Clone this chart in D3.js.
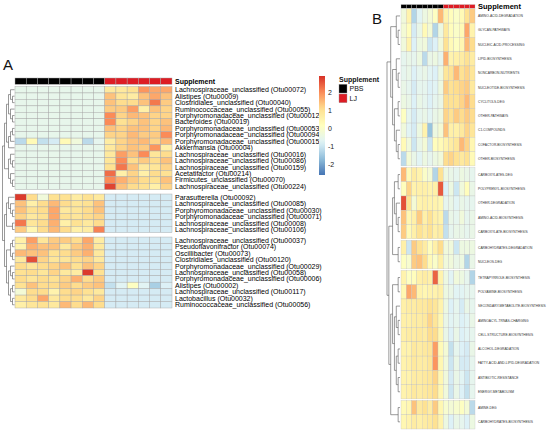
<!DOCTYPE html>
<html><head><meta charset="utf-8">
<script src="https://cdn.jsdelivr.net/npm/d3@7/dist/d3.min.js"></script>
<style>
body{margin:0;background:#fff}
svg{display:block}
text{font-family:"Liberation Sans",Arial,Helvetica,sans-serif}
</style>
</head><body>
<svg id="c" width="550" height="435"></svg>
<script>
// ---------------- DATA ----------------
const supplement = ["PBS","PBS","PBS","PBS","PBS","PBS","PBS","PBS","LJ","LJ","LJ","LJ","LJ","LJ"];
const supplementLevels = ["PBS","LJ"];
const legendTicks = [2,1,0,-1,-2];

const otuLabels = [
"Lachnospiraceae_unclassified (Otu00072)","Alistipes (Otu00009)","Clostridiales_unclassified (Otu00040)",
"Ruminococcaceae_unclassified (Otu00055)","Porphyromonadaceae_unclassified (Otu00012)","Bacteroides (Otu00019)",
"Porphyromonadaceae_unclassified (Otu00053)","Porphyromonadaceae_unclassified (Otu00094)","Porphyromonadaceae_unclassified (Otu00015)",
"Akkermansia (Otu00004)","Lachnospiraceae_unclassified (Otu00016)","Lachnospiraceae_unclassified (Otu00086)",
"Lachnospiraceae_unclassified (Otu00159)","Acetatifactor (Otu00214)","Firmicutes_unclassified (Otu00070)",
"Lachnospiraceae_unclassified (Otu00224)",
"Parasutterella (Otu00092)","Lachnospiraceae_unclassified (Otu00085)","Porphyromonadaceae_unclassified (Otu00030)",
"Porphyromonadaceae_unclassified (Otu00071)","Lachnospiraceae_unclassified (Otu00008)","Lachnospiraceae_unclassified (Otu00106)",
"Lachnospiraceae_unclassified (Otu00037)","Pseudoflavonifractor (Otu00074)","Oscillibacter (Otu00073)",
"Clostridiales_unclassified (Otu00120)","Porphyromonadaceae_unclassified (Otu00029)","Lachnospiraceae_unclassified (Otu00058)",
"Porphyromonadaceae_unclassified (Otu00006)","Alistipes (Otu00002)","Lachnospiraceae_unclassified (Otu00117)",
"Lactobacillus (Otu00032)","Ruminococcaceae_unclassified (Otu00056)"
];
const otuGroups = [16, 6, 11];
const otuValues = [
[-0.55,-0.55,-0.55,-0.55,-0.55,-0.55,-0.55,-0.55, 0.8,0.8,1.0,1.9,1.7,1.7],
[-0.55,-0.55,-0.55,-0.55,-0.55,-0.55,-0.55,-0.55, 1.4,0.9,0.7,1.4,1.7,1.4],
[-0.55,-0.55,-0.55,-0.55,-0.55,-0.55,-0.55,-0.55, 1.4,1.1,1.1,1.4,2.2,1.3],
[-0.55,-0.55,-0.55,-0.55,-0.55,-0.55,-0.55,-0.55, 1.3,1.3,1.8,0.6,1.4,1.2],
[-0.55,-0.55,-0.55,-0.55,-0.55,-0.55,-0.55,-0.55, 2.0,1.2,1.5,1.4,1.2,1.2],
[-0.55,-0.55,-0.55,-0.55,-0.55,-0.55,-0.55,-0.55, 2.0,1.0,1.2,1.4,1.2,1.4],
[-0.55,-0.55,-0.55,-0.55,-0.55,-0.55,-0.55,-0.55, 1.4,1.2,1.4,1.4,1.2,1.5],
[-0.55,-0.55,-0.55,-0.55,-0.55,-0.55,-0.55,-0.55, 1.2,1.2,1.5,1.3,1.3,2.0],
[-1.2,0.3,-1.1,-0.9,0.3,-0.3,-1.2,-0.6, 0.7,1.2,1.4,1.5,1.2,1.5],
[-0.55,-0.55,-0.55,-0.55,-0.55,-0.55,-0.55,-0.55, 0.8,1.2,1.4,1.3,1.9,0.6],
[-0.55,-0.55,-0.55,-0.55,-0.55,-0.55,-0.55,-0.55, 0.8,1.8,1.4,2.0,0.9,1.1],
[-0.55,-0.55,-0.55,-0.55,-0.55,-0.55,-0.55,-0.55, 0.9,2.0,1.1,1.3,1.1,1.4],
[-0.55,-0.55,-0.55,-0.55,-0.55,-0.55,-0.55,-0.55, 1.0,2.2,1.4,0.8,0.9,1.2],
[-0.55,-0.55,-0.55,-0.55,-0.55,-0.55,-0.55,-0.55, 2.3,0.6,1.2,0.6,1.1,1.0],
[-0.55,-0.55,-0.55,-0.55,-0.55,-0.55,-0.55,-0.55, 2.0,1.6,1.3,1.1,1.0,1.4],
[-0.55,-0.55,-0.55,-0.55,-0.55,-0.55,-0.55,-0.55, 2.7,1.4,1.1,1.0,0.6,1.2],
[2.8,1.1,-0.3,1.0,1.0,0.7,1.0,0.8, -0.9,-0.9,-0.9,-0.9,-0.9,-0.9],
[1.4,0.6,1.1,1.5,1.1,0.9,1.0,1.4, -0.9,-0.9,-0.9,-0.9,-0.9,-0.9],
[1.4,1.0,1.1,1.7,0.8,0.9,1.1,1.4, -0.9,-0.9,-0.9,-0.9,-0.9,-0.9],
[1.2,0.8,1.0,1.7,1.0,0.9,1.1,1.2, -0.9,-0.9,-0.9,-0.9,-0.9,-0.9],
[2.2,0.9,1.1,1.6,0.6,1.0,0.8,1.1, -0.9,-0.9,-0.9,-0.9,-0.9,-0.9],
[1.3,0.4,1.1,1.5,1.1,0.6,0.7,2.1, -0.9,-0.9,-0.9,-0.9,-0.9,-0.9],
[0.6,1.8,0.9,1.3,1.3,1.1,1.7,0.7, -0.9,-0.9,-0.9,-0.9,-0.9,-0.9],
[0.5,1.6,1.4,1.4,0.8,1.3,1.6,0.8, -0.9,-0.9,-0.9,-0.9,-0.9,-0.9],
[1.5,1.4,1.4,1.0,1.1,1.3,1.6,0.8, -0.9,-0.9,-0.9,-0.9,-0.9,-0.9],
[0.8,2.6,1.2,0.9,0.9,1.1,1.2,0.8, -0.9,-0.9,-0.9,-0.9,-0.9,-0.9],
[1.1,0.9,1.1,1.2,1.4,1.0,1.4,1.2, -0.9,-0.9,-0.9,-0.9,-0.9,-0.9],
[1.0,1.1,0.9,1.2,0.8,0.7,2.8,1.0, -0.9,-0.9,-0.9,-0.9,-0.9,-0.9],
[1.1,0.9,1.1,1.0,1.2,1.6,1.1,1.3, -0.9,-0.9,-0.9,-0.9,-0.9,-0.9],
[1.0,1.4,1.1,1.1,1.3,1.1,1.3,1.4, -1.1,-0.7,0.1,-0.7,-1.4,-0.8],
[-0.2,1.1,1.1,0.5,1.1,1.2,1.0,0.8, -0.9,-0.9,-0.9,-0.9,-0.9,-0.9],
[0.8,1.1,1.7,0.8,1.1,1.1,0.8,1.2, -0.9,-0.9,-0.9,-0.9,-0.9,-0.9],
[0.6,0.9,1.0,0.8,1.5,1.1,1.5,1.1, -0.9,-0.9,-0.9,-0.9,-0.9,-0.9]
];
const otuTree = [
  [[[[0,[1,2]],[3,[4,5]]],[[[6,7],8],9]],[[10,[11,12]],[13,[14,15]]]],
  [[[16,[17,[18,19]]],[20,21]],[[[22,23],[24,25]],[[26,[27,28]],[[29,30],[31,32]]]]]
];

const pathwayLabels = [
"AMINO-ACID-DEGRADATION","GLYCAN-PATHWAYS","NUCLEIC-ACID-PROCESSING","LIPID-BIOSYNTHESIS","NONCARBON-NUTRIENTS",
"NUCLEOTIDE-BIOSYNTHESIS","CYCLITOLS-DEG","OTHER-PATHWAYS","C1-COMPOUNDS","COFACTOR-BIOSYNTHESIS","OTHER-BIOSYNTHESIS",
"CARBOXYLATES-DEG","POLYPRENYL-BIOSYNTHESIS","OTHER-DEGRADATION","AMINO-ACID-BIOSYNTHESIS","CARBOXYLATE-BIOSYNTHESIS",
"CARBOHYDRATES-DEGRADATION","NUCLEOS-DEG",
"TETRAPYRROLE-BIOSYNTHESIS","POLYAMINE-BIOSYNTHESIS","SECONDARY-METABOLITE-BIOSYNTHESIS","AMINOACYL-TRNAS-CHARGING",
"CELL-STRUCTURE-BIOSYNTHESIS","ALCOHOL-DEGRADATION","FATTY-ACID-AND-LIPID-DEGRADATION","ANTIBIOTIC-RESISTANCE","ENERGY-METABOLISM",
"AMINE-DEG","CARBOHYDRATES-BIOSYNTHESIS"
];
const pathwayGroups = [11, 5, 2, 9, 2];
const pathwayValues = [
[-0.3,0.5,-1.3,-0.7,-0.4,-0.2,0.1,1.5, 0.5,0.2,0.0,0.3,1.0,1.3],
[-0.2,0.2,-0.9,-0.5,0.3,-0.2,-1.3,-0.4, 0.8,0.2,0.0,0.3,1.7,0.5],
[-0.3,0.5,-0.8,-0.4,-0.3,-1.0,-0.8,-0.3, 1.0,0.3,0.1,0.4,1.5,1.1],
[-0.6,-0.5,-0.6,-0.4,-1.2,-0.5,-0.4,-0.6, 1.6,0.5,0.6,0.7,1.0,0.7],
[-0.6,-0.5,-0.8,-0.6,-0.5,-0.7,-0.8,-0.4, 0.9,1.0,1.5,1.0,1.2,0.9],
[-0.5,-0.6,-0.9,-0.6,-0.6,-0.8,-0.7,-0.4, 1.3,1.0,1.1,1.2,1.3,0.8],
[-0.4,-0.5,-0.8,-0.5,-0.6,-0.8,-0.6,-0.5, 1.1,1.0,1.0,1.2,1.5,1.1],
[0.1,-0.6,-0.9,-0.6,-0.5,-0.7,-0.5,-0.4, 1.2,1.0,1.3,1.1,1.3,1.1],
[-0.3,-0.7,-0.9,-0.4,0.5,-1.6,-0.4,-0.2, 1.4,0.6,0.6,0.8,1.2,0.9],
[0.3,-0.3,-1.0,-0.5,-0.2,-1.0,0.2,0.3, 0.5,0.7,0.9,1.5,1.2,0.4],
[-1.2,-0.2,-0.5,-0.7,-0.4,-0.6,-0.4,-0.3, 1.1,1.2,1.0,0.8,1.0,0.3],
[1.5,0.3,0.7,0.5,0.0,-0.2,-1.3,1.0, -0.4,-0.5,-0.6,-0.4,-0.5,-0.6],
[0.2,1.2,0.5,0.6,0.6,0.5,0.6,2.5, -0.8,-0.4,-1.0,-0.3,0.2,-0.5],
[2.6,1.0,-0.2,0.5,0.6,0.5,0.5,0.4, -0.6,-0.5,-0.7,-0.5,-0.6,-0.6],
[1.4,0.4,0.6,1.3,0.6,1.0,0.6,0.5, -1.2,-0.5,-0.6,-0.3,-0.6,-0.5],
[1.3,0.3,0.6,1.0,0.7,1.0,0.6,0.7, -1.1,-0.6,-0.5,-0.5,-0.6,-0.5],
[0.6,-1.0,1.3,1.0,0.7,0.2,0.6,1.1, -0.3,-0.3,-1.0,-0.4,-0.4,-0.4],
[0.1,-0.1,1.3,1.4,1.1,0.3,0.0,0.6, -0.3,-0.3,-0.5,-0.4,-1.3,-0.5],
[0.5,0.1,0.2,0.6,0.7,0.6,2.4,0.5, -0.4,-0.7,-0.3,-0.4,-0.6,-1.3],
[0.4,1.7,1.5,0.5,0.4,0.5,0.5,0.6, -0.4,-0.5,-0.7,-0.7,-0.6,-0.6],
[0.6,0.7,0.7,0.8,0.8,1.0,0.9,0.5, -0.4,-0.8,-0.6,-0.9,-0.5,-0.6],
[0.6,0.6,0.7,0.7,0.8,1.2,0.9,0.4, -0.5,-0.7,-0.6,-0.8,-0.7,-0.5],
[0.6,0.7,0.7,0.8,0.7,1.1,1.1,0.4, -0.5,-0.8,-0.5,-0.8,-0.7,-0.6],
[0.5,0.5,0.8,0.7,0.8,0.9,1.8,0.3, -0.2,-1.1,-0.6,-0.8,-0.9,-0.5],
[0.5,0.6,0.8,0.7,0.7,0.9,1.9,0.4, -0.3,-1.0,-0.5,-0.9,-0.9,-0.6],
[0.5,0.5,0.7,0.7,0.8,0.9,1.2,0.4, -0.3,-0.9,-0.5,-0.7,-1.0,-0.6],
[0.5,0.6,0.8,0.7,0.8,0.9,1.1,0.4, -0.3,-1.0,-0.5,-0.8,-1.1,-0.6],
[0.3,0.4,1.4,0.8,1.0,0.7,1.3,0.4, -0.1,-0.2,-0.1,0.1,-0.2,-1.2],
[0.4,0.5,0.7,0.6,0.7,0.8,1.0,0.5, -0.4,-0.8,-0.5,-0.6,-0.8,-0.4]
];
const pathwayTree = [
  [[0,[1,2]],[[3,[4,5]],[[6,7],[8,[9,10]]]]],
  [[[[11,12],[13,[14,15]]],[16,17]],[[[18,19],[[20,[21,22]],[[23,24],[25,26]]]],[27,28]]]
];

// ---------------- SCALES ----------------
const palette = ["#4575B4","#91BFDB","#E0F3F8","#FFFFBF","#FEE090","#FC8D59","#D73027"];
const vmin = -2.6, vmax = 2.9;
const color = d3.scaleLinear()
  .domain(d3.range(7).map(i => vmin + i*(vmax-vmin)/6))
  .range(palette).clamp(true);
const suppColor = d3.scaleOrdinal().domain(supplementLevels).range(["#000000","#dd1c24"]);

const svg = d3.select("#c");

function drawHeatmap(o) {
  const g = svg.append("g");
  const n = o.labels.length;
  const groupOf = [];
  o.groups.forEach((s, gi) => { for (let k = 0; k < s; k++) groupOf.push(gi); });
  const rowH = (o.y1 - o.y0 - (o.groups.length-1)*o.gap) / n;
  const yBand = d3.scaleBand().domain(d3.range(n)).range([o.y0, o.y0 + n*rowH]);
  const y = i => yBand(i) + groupOf[i]*o.gap;
  const x = d3.scaleBand().domain(d3.range(supplement.length)).range([o.x0, o.x1]);

  g.append("g").selectAll("rect").data(supplement).join("rect")
    .attr("x", (d,i) => x(i)).attr("y", o.barY0)
    .attr("width", x.bandwidth()).attr("height", o.barY1 - o.barY0)
    .attr("fill", d => suppColor(d))
    .attr("stroke", o.stroke).attr("stroke-width", o.sw);
  g.append("text").attr("x", o.x1 + 3).attr("y", (o.barY0+o.barY1)/2)
    .attr("dy", "0.35em").attr("font-size", o.titleSize).attr("font-weight", "bold")
    .attr("fill", "#000").text("Supplement");

  const rows = g.append("g").selectAll("g").data(o.values).join("g")
    .attr("transform", (d,i) => `translate(0,${y(i)})`);
  rows.selectAll("rect").data(d => d).join("rect")
    .attr("x", (d,j) => x(j)).attr("y", 0)
    .attr("width", x.bandwidth()).attr("height", rowH)
    .attr("fill", d => color(d))
    .attr("stroke", o.stroke).attr("stroke-width", o.sw);

  g.append("g").selectAll("text").data(o.labels).join("text")
    .attr("x", o.x1 + 3).attr("y", (d,i) => y(i) + rowH/2)
    .attr("dy", "0.35em").attr("font-size", o.labelSize)
    .attr("fill", o.labelColor).text(d => d);

  const root = d3.hierarchy(o.tree, d => Array.isArray(d) ? d : null);
  const xs = d3.scaleLinear().domain([0, root.height]).range([o.dx1, o.dx0]);
  root.eachAfter(nd => {
    if (nd.children) {
      nd.py = (nd.children[0].py + nd.children[nd.children.length-1].py) / 2;
      nd.px = xs(nd.height);
    } else {
      nd.py = y(nd.data) + rowH/2;
      nd.px = o.dx1;
    }
  });
  let p = "";
  root.each(nd => {
    if (!nd.children) return;
    const a = nd.children[0], b = nd.children[nd.children.length-1];
    p += `M${nd.px},${a.py}V${b.py}`;
    nd.children.forEach(c => { p += `M${nd.px},${c.py}H${c.px}`; });
  });
  g.append("path").attr("d", p).attr("fill", "none")
    .attr("stroke", "#555").attr("stroke-width", 0.6);
}

// Panel A
drawHeatmap({
  labels: otuLabels, values: otuValues, groups: otuGroups, tree: otuTree,
  x0: 15, x1: 172, y0: 86.5, y1: 308, gap: 4.3,
  barY0: 78, barY1: 84.3, dx0: 2.5, dx1: 14.5,
  labelSize: 7, titleSize: 7, labelColor: "#000",
  stroke: "#a8a8a8", sw: 0.45
});

// Panel B
drawHeatmap({
  labels: pathwayLabels, values: pathwayValues, groups: pathwayGroups, tree: pathwayTree,
  x0: 401, x1: 475, y0: 8.8, y1: 429, gap: 1.5,
  barY0: 4.6, barY1: 8.3, dx0: 387, dx1: 400,
  labelSize: 3.3, titleSize: 7.5, labelColor: "#333",
  stroke: "#bdbdbd", sw: 0.3
});

svg.append("text").attr("x", 3).attr("y", 70).attr("font-size", 15).attr("fill", "#111").text("A");
svg.append("text").attr("x", 372).attr("y", 24).attr("font-size", 15).attr("fill", "#111").text("B");

// Colour legend
const lg = svg.append("g");
const ly = d3.scaleLinear().domain([vmin, vmax]).range([175, 76]);
const defs = svg.append("defs");
const grad = defs.append("linearGradient").attr("id", "lgrad")
  .attr("x1", 0).attr("y1", 1).attr("x2", 0).attr("y2", 0);
grad.selectAll("stop").data(d3.range(0, 1.0001, 0.05)).join("stop")
  .attr("offset", d => d).attr("stop-color", d => color(vmin + d*(vmax-vmin)));
lg.append("rect").attr("x", 319).attr("y", ly(vmax)).attr("width", 6)
  .attr("height", ly(vmin) - ly(vmax)).attr("fill", "url(#lgrad)");
lg.selectAll("text.tk").data(legendTicks).join("text").attr("class", "tk")
  .attr("x", 328).attr("y", d => ly(d)).attr("dy", "0.35em")
  .attr("font-size", 7).attr("fill", "#222").text(d => d);

// Supplement legend
const sg = svg.append("g");
sg.append("text").attr("x", 339).attr("y", 80).attr("dy", "0.35em")
  .attr("font-size", 7).attr("font-weight", "bold").attr("fill", "#111").text("Supplement");
const sy = d3.scaleBand().domain(supplementLevels).range([84.3, 102.7]).paddingInner(0.1);
sg.selectAll("rect").data(supplementLevels).join("rect")
  .attr("x", 339).attr("y", d => sy(d)).attr("width", 8).attr("height", sy.bandwidth())
  .attr("fill", d => suppColor(d)).attr("stroke", "#999").attr("stroke-width", 0.4);
sg.selectAll("text.lv").data(supplementLevels).join("text").attr("class", "lv")
  .attr("x", 349.5).attr("y", d => sy(d) + sy.bandwidth()/2).attr("dy", "0.35em")
  .attr("font-size", 7).attr("fill", "#111").text(d => d);
</script>
</body></html>
